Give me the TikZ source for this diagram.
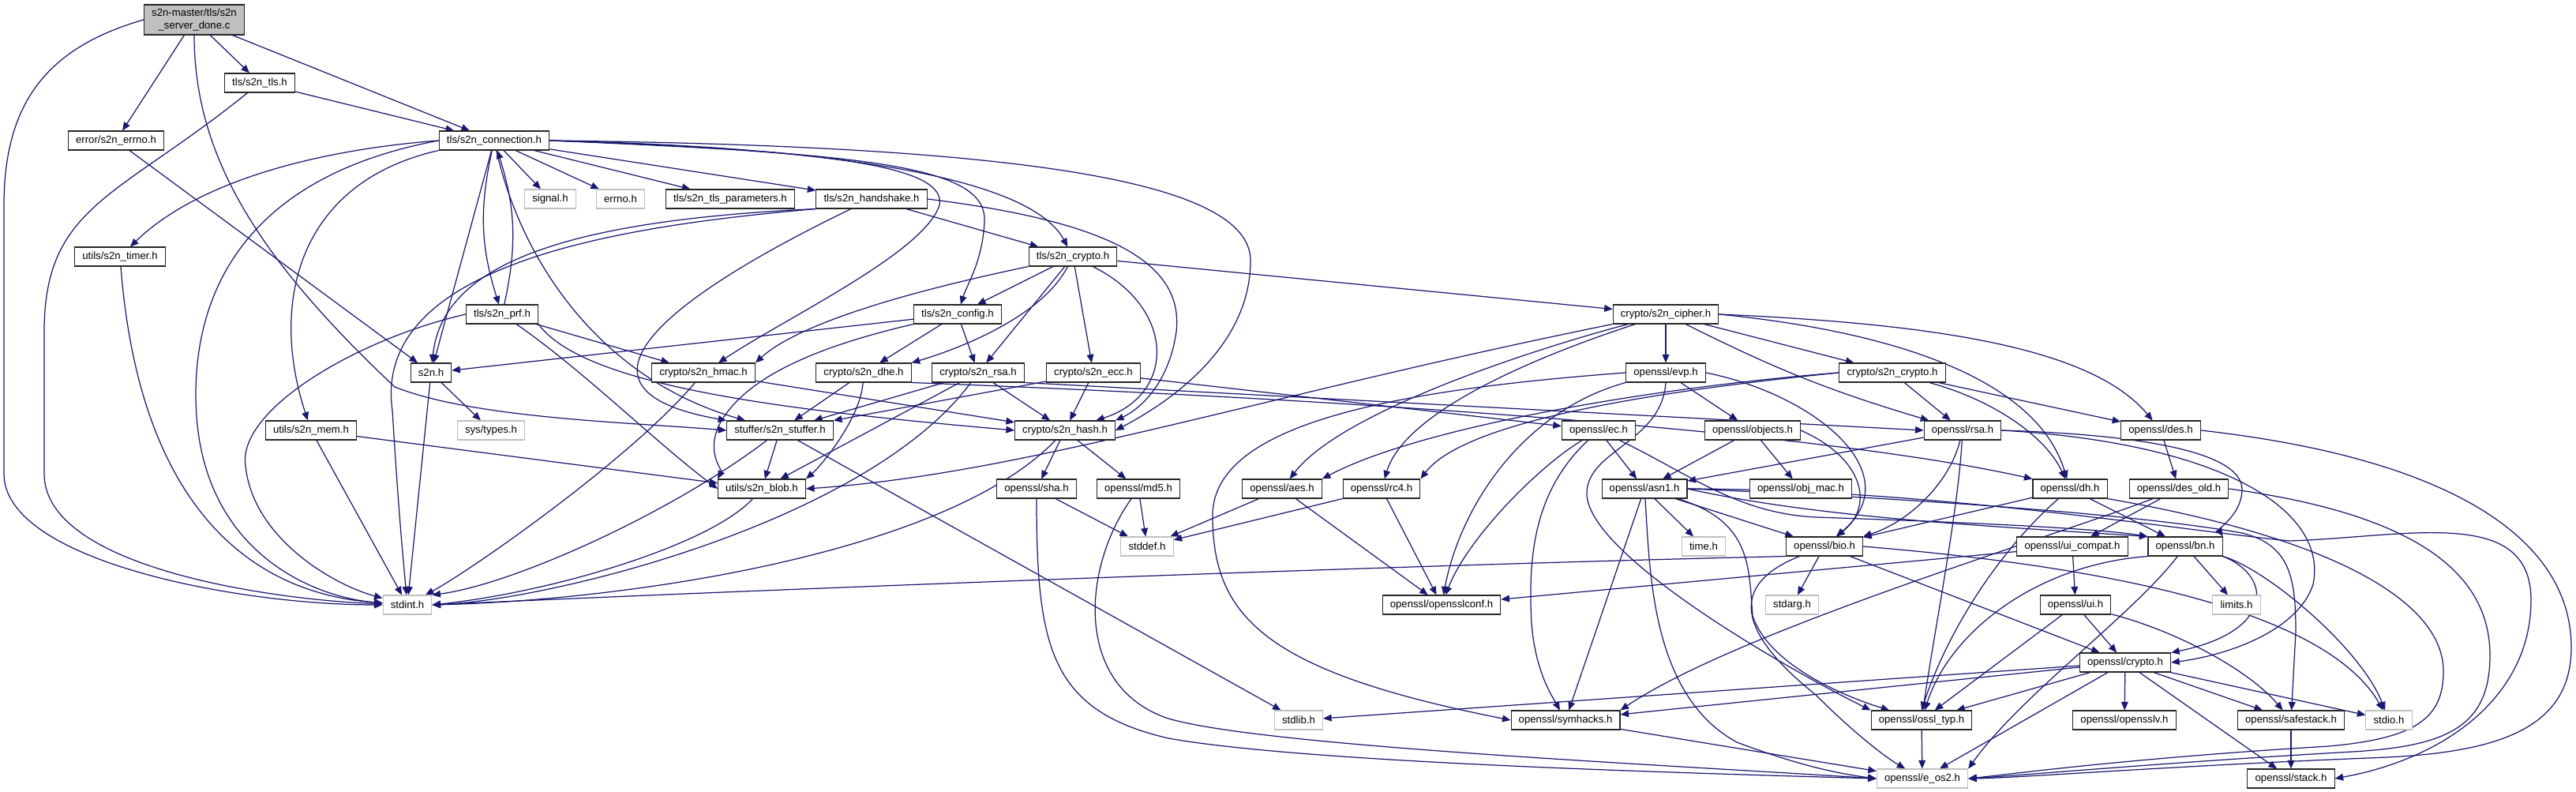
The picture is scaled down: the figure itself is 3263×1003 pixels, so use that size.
\documentclass[tikz,border=0pt]{standalone}
\usepackage{fontspec}
\setmainfont{Liberation Sans}
\usetikzlibrary{arrows.meta,backgrounds}
\definecolor{edgeblue}{HTML}{191970}
\definecolor{sysgray}{HTML}{BFBFBF}

\begin{document}
\begin{tikzpicture}[x=0.02cm, y=-0.02cm,
    hdr/.style={draw=black!85, line width=0.6pt, fill=white, minimum height=0.48cm, inner xsep=5.5pt, inner ysep=0pt, font=\fontsize{7.5}{9}\selectfont},
    sys/.style={hdr, draw=sysgray},
    src/.style={hdr, fill=sysgray, minimum height=0.76cm, align=center},
    dep/.style={-{Triangle[length=6pt,width=5pt]}, edgeblue, line width=0.7pt}
]
\useasboundingbox (0,0) rectangle (3263,1003);

\node[src] (main) at (246,25) {s2n-master/tls/s2n\\\_server\_done.c};
\node[hdr] (tls) at (329,105) {tls/s2n\_tls.h};
\node[hdr] (errno) at (147,178) {error/s2n\_errno.h};
\node[hdr] (conn) at (626,178) {tls/s2n\_connection.h};
\node[sys] (signal) at (697,252) {signal.h};
\node[sys] (errnoh) at (786,252) {errno.h};
\node[hdr] (tlspar) at (925,252) {tls/s2n\_tls\_parameters.h};
\node[hdr] (hshake) at (1104,252) {tls/s2n\_handshake.h};
\node[hdr] (timer) at (152,325) {utils/s2n\_timer.h};
\node[hdr] (tcrypto) at (1359,325) {tls/s2n\_crypto.h};
\node[hdr] (prf) at (636,398) {tls/s2n\_prf.h};
\node[hdr] (config) at (1213,398) {tls/s2n\_config.h};
\node[hdr] (cipher) at (2110,398) {crypto/s2n\_cipher.h};
\node[hdr] (s2n) at (546,472) {s2n.h};
\node[hdr] (hmac) at (891,472) {crypto/s2n\_hmac.h};
\node[hdr] (dhe) at (1094,472) {crypto/s2n\_dhe.h};
\node[hdr] (crsa) at (1239,472) {crypto/s2n\_rsa.h};
\node[hdr] (ecc) at (1385,472) {crypto/s2n\_ecc.h};
\node[hdr] (evp) at (2110,472) {openssl/evp.h};
\node[hdr] (ccrypto) at (2397,472) {crypto/s2n\_crypto.h};
\node[hdr] (mem) at (394,545) {utils/s2n\_mem.h};
\node[sys] (systypes) at (622,545) {sys/types.h};
\node[hdr] (stuffer) at (988,545) {stuffer/s2n\_stuffer.h};
\node[hdr] (hash) at (1349,545) {crypto/s2n\_hash.h};
\node[hdr] (ec) at (2025,545) {openssl/ec.h};
\node[hdr] (objects) at (2220,545) {openssl/objects.h};
\node[hdr] (rsa) at (2486,545) {openssl/rsa.h};
\node[hdr] (des) at (2737,545) {openssl/des.h};
\node[hdr] (blob) at (965,619) {utils/s2n\_blob.h};
\node[hdr] (sha) at (1313,619) {openssl/sha.h};
\node[hdr] (md5) at (1442,619) {openssl/md5.h};
\node[hdr] (aes) at (1624,619) {openssl/aes.h};
\node[hdr] (rc4) at (1750,619) {openssl/rc4.h};
\node[hdr] (asn1) at (2083,619) {openssl/asn1.h};
\node[hdr] (objmac) at (2281,619) {openssl/obj\_mac.h};
\node[hdr] (dh) at (2622,619) {openssl/dh.h};
\node[hdr] (desold) at (2760,619) {openssl/des\_old.h};
\node[sys] (stddef) at (1453,692) {stddef.h};
\node[sys] (timeh) at (2158,692) {time.h};
\node[hdr] (bio) at (2311,692) {openssl/bio.h};
\node[hdr] (uicompat) at (2625,692) {openssl/ui\_compat.h};
\node[hdr] (bn) at (2768,692) {openssl/bn.h};
\node[sys] (stdint) at (516,766) {stdint.h};
\node[hdr] (sslconf) at (1826,766) {openssl/opensslconf.h};
\node[sys] (stdarg) at (2270,766) {stdarg.h};
\node[hdr] (ui) at (2629,766) {openssl/ui.h};
\node[sys] (limits) at (2833,766) {limits.h};
\node[hdr] (crypto) at (2692,839) {openssl/crypto.h};
\node[sys] (stdlib) at (1645,912) {stdlib.h};
\node[hdr] (symhacks) at (1983,912) {openssl/symhacks.h};
\node[hdr] (ossltyp) at (2434,912) {openssl/ossl\_typ.h};
\node[hdr] (sslv) at (2691,912) {openssl/opensslv.h};
\node[hdr] (safestack) at (2902,912) {openssl/safestack.h};
\node[sys] (stdio) at (3026,912) {stdio.h};
\node[sys] (eos2) at (2435,986) {openssl/e\_os2.h};
\node[hdr] (stack) at (2902,986) {openssl/stack.h};

\begin{scope}[on background layer]
\draw[dep] (main) -- (errno);
\draw[dep] (main) -- (tls);
\draw[dep] (main) -- (conn);
\draw[dep] (main.west) .. controls (60,60) and (5,130) .. (5,260) -- (5,600) .. controls (5,710) and (300,766) .. (stdint);
\draw[dep] (main.south) .. controls (246,200) and (330,330) .. (500,490) .. controls (600,530) and (800,535) .. (stuffer.west);

\draw[dep] (tls) -- (conn);
\draw[dep] (tls) .. controls (150,250) and (56,260) .. (56,420) -- (56,600) .. controls (56,720) and (350,760) .. (stdint);
\draw[dep] (errno) -- (s2n);

\draw[dep] (conn) -- (signal);
\draw[dep] (conn) -- (errnoh);
\draw[dep] (conn) -- (tlspar);
\draw[dep] (conn) -- (hshake);
\draw[dep] (conn.east) .. controls (1000,185) and (1300,215) .. (tcrypto);
\draw[dep] (conn.east) .. controls (1100,195) and (1250,210) .. (1247,280) .. controls (1245,330) and (1225,360) .. (config);
\draw[dep] (conn.east) .. controls (1050,190) and (1200,210) .. (1190,260) .. controls (1170,320) and (1000,400) .. (hmac);
\draw[dep] (conn.east) .. controls (1300,185) and (1584,230) .. (1584,330) .. controls (1584,440) and (1480,510) .. (hash.east);
\draw[dep] (conn) to[bend right=15] (prf);
\draw[dep] (conn) -- (s2n);
\draw[dep] (conn.west) .. controls (400,190) and (250,230) .. (timer);
\draw[dep] (conn.south west) .. controls (380,230) and (340,380) .. (mem);
\draw[dep] (conn.west) .. controls (330,220) and (248,350) .. (248,500) .. controls (248,700) and (400,757) .. (stdint);
\draw[dep] (conn) .. controls (660,330) and (760,480) .. (stuffer);

\draw[dep] (prf) to[bend right=15] (conn);
\draw[dep] (prf.west) .. controls (450,430) and (300,520) .. (311,590) .. controls (320,680) and (420,740) .. (stdint);
\draw[dep] (prf) -- (hmac);
\draw[dep] (prf.south east) .. controls (740,490) and (1000,520) .. (hash.west);
\draw[dep] (prf) .. controls (740,470) and (830,560) .. (blob.west);

\draw[dep] (hshake) -- (tcrypto);
\draw[dep] (hshake.south west) .. controls (700,280) and (560,340) .. (s2n);
\draw[dep] (hshake.south west) .. controls (800,285) and (470,330) .. (497,520) .. controls (505,650) and (510,700) .. (stdint);
\draw[dep] (hshake) .. controls (880,360) and (680,490) .. (stuffer.north west);
\draw[dep] (hshake.east) .. controls (1400,280) and (1500,330) .. (1490,420) .. controls (1480,490) and (1440,520) .. (hash.north east);

\draw[dep] (tcrypto) -- (config);
\draw[dep] (tcrypto.south west) .. controls (1100,380) and (1000,420) .. (hmac.north east);
\draw[dep] (tcrypto) .. controls (1320,400) and (1220,440) .. (dhe.north east);
\draw[dep] (tcrypto) -- (crsa);
\draw[dep] (tcrypto) -- (ecc);
\draw[dep] (tcrypto) .. controls (1490,390) and (1490,500) .. (hash);
\draw[dep] (tcrypto) -- (cipher);

\draw[dep] (config) -- (dhe);
\draw[dep] (config) -- (crsa);
\draw[dep] (config) -- (s2n);
\draw[dep] (config.south west) .. controls (1030,440) and (940,480) .. (910,540) .. controls (895,575) and (915,595) .. (blob.north west);

\draw[dep] (cipher) -- (evp);
\draw[dep] (cipher) .. controls (1950,440) and (1700,520) .. (aes);
\draw[dep] (cipher) .. controls (1950,450) and (1780,520) .. (rc4);
\draw[dep] (cipher) -- (ccrypto);
\draw[dep] (cipher) to[bend right=5] (rsa);
\draw[dep] (cipher.east) .. controls (2450,410) and (2650,440) .. (des);
\draw[dep] (cipher.east) .. controls (2400,420) and (2580,480) .. (dh);
\draw[dep] (cipher.south west) .. controls (1600,500) and (1300,600) .. (blob.east);

\draw[dep] (ccrypto.west) .. controls (2100,490) and (1800,540) .. (aes.north east);
\draw[dep] (ccrypto.west) .. controls (2050,500) and (1850,540) .. (rc4.north east);
\draw[dep] (ccrypto) -- (rsa);
\draw[dep] (ccrypto) -- (des);
\draw[dep] (ccrypto) .. controls (2520,505) and (2590,550) .. (dh);

\draw[dep] (s2n) -- (stdint);
\draw[dep] (s2n) -- (systypes);
\draw[dep] (hmac) -- (hash);
\draw[dep] (hmac) .. controls (800,580) and (600,720) .. (stdint);
\draw[dep] (dhe) -- (stuffer);
\draw[dep] (dhe) .. controls (1090,530) and (1040,590) .. (blob.north east);
\draw[dep] (dhe.south east) .. controls (1700,505) and (2300,545) .. (dh.north west);
\draw[dep] (crsa) -- (stuffer);
\draw[dep] (crsa) -- (hash);
\draw[dep] (crsa) -- (blob);
\draw[dep] (crsa) .. controls (1100,660) and (700,760) .. (stdint.east);
\draw[dep] (crsa.south east) -- (rsa.west);
\draw[dep] (ecc) -- (stuffer);
\draw[dep] (ecc) -- (hash);
\draw[dep] (ecc) -- (ec);

\draw[dep] (evp) -- (objects);
\draw[dep] (evp.south west) .. controls (1930,520) and (1850,640) .. (sslconf);
\draw[dep] (evp.west) .. controls (1750,495) and (1540,540) .. (1536,650) .. controls (1535,780) and (1600,850) .. (symhacks.west);
\draw[dep] (evp.east) .. controls (2300,500) and (2420,600) .. (bio);
\draw[dep] (evp.south) .. controls (2105,560) and (2010,570) .. (2010,625) .. controls (2010,700) and (2250,840) .. (ossltyp.north west);

\draw[dep] (timer) .. controls (175,620) and (300,750) .. (stdint);
\draw[dep] (mem) -- (blob);
\draw[dep] (mem) -- (stdint);
\draw[dep] (stuffer) -- (blob);
\draw[dep] (stuffer) -- (stdlib);
\draw[dep] (stuffer) .. controls (850,650) and (650,740) .. (stdint.north east);
\draw[dep] (hash) -- (sha);
\draw[dep] (hash) -- (md5);
\draw[dep] (hash) .. controls (1200,700) and (800,760) .. (stdint.east);
\draw[dep] (blob) .. controls (900,690) and (700,750) .. (stdint.east);

\draw[dep] (ec) -- (asn1);
\draw[dep] (ec) .. controls (1950,590) and (1860,680) .. (sslconf);
\draw[dep] (ec) .. controls (1945,620) and (1935,700) .. (1940,790) .. controls (1945,850) and (1965,880) .. (symhacks);
\draw[dep] (ec) .. controls (2140,600) and (2200,650) .. (2300,655) .. controls (2450,660) and (2650,668) .. (bn.north west);
\draw[dep] (objects) -- (asn1);
\draw[dep] (objects) -- (objmac);
\draw[dep] (objects.east) .. controls (2360,580) and (2375,640) .. (bio);

\draw[dep] (rsa) -- (asn1);
\draw[dep] (rsa) .. controls (2470,610) and (2420,660) .. (bio.north east);
\draw[dep] (rsa) .. controls (2480,650) and (2450,800) .. (ossltyp);
\draw[dep] (rsa.east) .. controls (2700,550) and (2840,570) .. (2840,620) .. controls (2840,650) and (2810,670) .. (bn.north east);
\draw[dep] (rsa.east) .. controls (2800,560) and (2950,640) .. (2930,740) .. controls (2910,800) and (2820,830) .. (crypto.east);
\draw[dep] (des) -- (desold);
\draw[dep] (des.east) .. controls (3100,580) and (3257,680) .. (3257,820) .. controls (3257,930) and (3150,955) .. (3000,960) .. controls (2750,970) and (2560,985) .. (eos2.east);

\draw[dep] (sha) -- (stddef);
\draw[dep] (md5) -- (stddef);
\draw[dep] (aes) -- (stddef);
\draw[dep] (rc4.south west) -- (stddef);
\draw[dep] (aes) -- (sslconf);
\draw[dep] (rc4) -- (sslconf);
\draw[dep] (sha) .. controls (1313,820) and (1330,900) .. (1480,935) .. controls (1650,965) and (2100,978) .. (eos2.west);
\draw[dep] (md5) .. controls (1370,720) and (1360,870) .. (1480,910) .. controls (1600,945) and (2100,968) .. (eos2.west);

\draw[dep] (asn1) -- (timeh);
\draw[dep] (asn1) -- (bio);
\draw[dep] (asn1) -- (symhacks);
\draw[dep] (asn1) .. controls (2090,720) and (2090,880) .. (2200,940) .. controls (2280,970) and (2330,980) .. (eos2.west);
\draw[dep] (asn1) .. controls (2220,660) and (2215,720) .. (2220,780) .. controls (2240,840) and (2330,880) .. (ossltyp);
\draw[dep] (asn1.east) .. controls (2300,655) and (2500,665) .. (bn.north west);
\draw[dep] (asn1.east) .. controls (2400,630) and (2700,650) .. (2840,675) .. controls (2900,690) and (2908,730) .. (2908,800) -- (safestack);
\draw[dep] (asn1.east) .. controls (2450,620) and (2750,670) .. (2900,685) .. controls (3050,680) and (3206,640) .. (3206,760) .. controls (3206,880) and (3100,960) .. (stack.east);

\draw[dep] (dh) -- (bn);
\draw[dep] (dh) -- (bio);
\draw[dep] (dh) .. controls (2540,690) and (2470,790) .. (ossltyp.north);
\draw[dep] (dh.south east) .. controls (2950,680) and (3095,760) .. (3095,850) .. controls (3095,910) and (3060,935) .. (2950,945) .. controls (2700,960) and (2550,980) .. (eos2.east);
\draw[dep] (desold) -- (uicompat);
\draw[dep] (desold) .. controls (2600,680) and (2200,800) .. (symhacks.north east);
\draw[dep] (desold.east) .. controls (3050,650) and (3154,720) .. (3154,830) .. controls (3154,920) and (3100,945) .. (2980,952) .. controls (2750,965) and (2560,982) .. (eos2.east);

\draw[dep] (bio) -- (stdarg);
\draw[dep] (bio.south west) .. controls (1800,715) and (1000,745) .. (stdint.east);
\draw[dep] (bio) .. controls (2190,740) and (2200,800) .. (2300,880) .. controls (2350,930) and (2390,960) .. (eos2);
\draw[dep] (bio) -- (crypto);
\draw[dep] (bio.east) .. controls (2700,720) and (2950,780) .. (stdio);
\draw[dep] (uicompat) -- (ui);
\draw[dep] (uicompat) -- (sslconf);
\draw[dep] (bn) -- (limits);
\draw[dep] (bn.south west) .. controls (2580,715) and (2470,800) .. (ossltyp);
\draw[dep] (bn) .. controls (2700,780) and (2560,880) .. (eos2.north east);
\draw[dep] (bn.south east) .. controls (2880,730) and (2880,800) .. (crypto.north east);
\draw[dep] (bn.south east) .. controls (2870,720) and (2990,820) .. (stdio);
\draw[dep] (ui) -- (crypto);
\draw[dep] (ui) .. controls (2760,800) and (2850,850) .. (safestack);
\draw[dep] (ui) -- (ossltyp);

\draw[dep] (crypto) -- (stdlib);
\draw[dep] (crypto) -- (symhacks);
\draw[dep] (crypto) -- (ossltyp);
\draw[dep] (crypto) -- (sslv);
\draw[dep] (crypto) -- (safestack);
\draw[dep] (crypto) -- (stdio);
\draw[dep] (crypto) -- (stack);
\draw[dep] (crypto) -- (eos2);
\draw[dep] (ossltyp) -- (eos2);
\draw[dep] (symhacks) -- (eos2);
\draw[dep] (safestack) -- (stack);
\end{scope}
\end{tikzpicture}
\end{document}
